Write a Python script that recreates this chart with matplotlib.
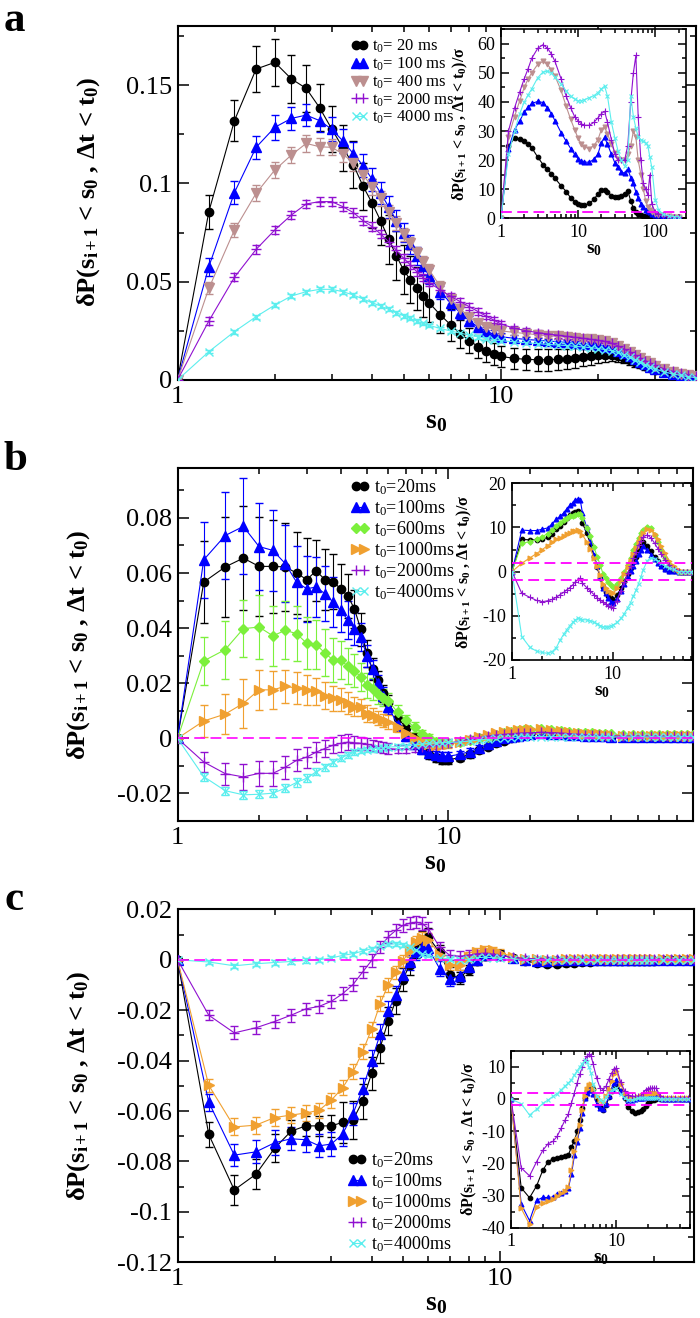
import matplotlib
matplotlib.use('Agg')
import matplotlib.pyplot as plt
from matplotlib.ticker import FixedLocator, NullFormatter, LogLocator, MultipleLocator, FuncFormatter
from matplotlib.lines import Line2D

plt.rcParams['font.family'] = ['Liberation Serif', 'DejaVu Serif']
plt.rcParams['mathtext.fontset'] = 'custom'
plt.rcParams['mathtext.rm'] = 'Liberation Serif'
plt.rcParams['mathtext.it'] = 'Liberation Serif:italic'
plt.rcParams['mathtext.bf'] = 'Liberation Serif:bold'

# ---------------- panel a (main) ----------------
S0_A = [1, 1.25, 1.5, 1.75, 2, 2.25, 2.5, 2.75, 3, 3.25, 3.5, 3.75, 4, 4.25, 4.5, 4.75, 5, 5.25, 5.5, 5.75, 6,
        6.5, 7, 7.5, 8, 8.5, 9, 9.5, 10,
        11, 12, 13, 14, 15, 16, 17, 18, 19, 20,
        21, 22, 23, 24, 25, 26, 27, 28, 29, 30,
        32, 34, 36, 38, 40]
A_20 = [0, 0.0856, 0.1319, 0.1581, 0.1615, 0.1531, 0.1483, 0.1385, 0.1276, 0.1180, 0.1094, 0.0985, 0.0899, 0.0809, 0.0716, 0.0632, 0.0560, 0.0509, 0.0466, 0.0427, 0.0393,
        0.0331, 0.0280, 0.0235, 0.0200, 0.0170, 0.0148, 0.0132, 0.0120,
        0.0110, 0.0105, 0.0103, 0.0103, 0.0105, 0.0108, 0.0111, 0.0115, 0.0120, 0.0125,
        0.0129, 0.0128, 0.0122, 0.0112, 0.0100, 0.0089, 0.0079, 0.0069, 0.0061, 0.0053,
        0.0041, 0.0032, 0.0025, 0.0019, 0.0015]
A_20_ERR = [0, 0.0087, 0.0105, 0.0116, 0.0120, 0.0122, 0.0120, 0.0120, 0.0115, 0.0115, 0.0120, 0.0120, 0.0125, 0.0125, 0.0125, 0.0125, 0.0125, 0.0120, 0.0110, 0.0105, 0.0100,
            0.0090, 0.0080, 0.0070, 0.0065, 0.0060, 0.0055, 0.0055, 0.0055,
            0.0055, 0.0055, 0.0055, 0.0055, 0.0055, 0.0050, 0.0050, 0.0045, 0.0042, 0.0040,
            0.0036, 0.0032, 0.0028, 0.0026, 0.0024, 0.0022, 0.0020, 0.0018, 0.0016, 0.0015,
            0.0013, 0.0011, 0.0010, 0.0009, 0.0008]
A_100 = [0, 0.0576, 0.0953, 0.1183, 0.1285, 0.1330, 0.1347, 0.1319, 0.1275, 0.1215, 0.1150, 0.1090, 0.1020, 0.0950, 0.0880, 0.0810, 0.0750, 0.0690, 0.0630, 0.0580, 0.0530,
         0.0450, 0.0390, 0.0340, 0.0300, 0.0270, 0.0250, 0.0232, 0.0220,
         0.0212, 0.0206, 0.0202, 0.0198, 0.0195, 0.0191, 0.0188, 0.0185, 0.0181, 0.0176,
         0.0170, 0.0161, 0.0150, 0.0136, 0.0121, 0.0106, 0.0092, 0.0079, 0.0068, 0.0058,
         0.0043, 0.0033, 0.0025, 0.0020, 0.0015]
A_100_ERR = [0, 0.0046, 0.0060, 0.0060, 0.0063, 0.0060, 0.0058, 0.0060, 0.0060, 0.0060, 0.0060, 0.0060, 0.0058, 0.0056, 0.0054, 0.0052, 0.0050, 0.0048, 0.0046, 0.0044, 0.0042,
             0.0038, 0.0034, 0.0030, 0.0027, 0.0024, 0.0022, 0.0020, 0.0018,
             0.0016, 0.0015, 0.0014, 0.0013, 0.0013, 0.0012, 0.0012, 0.0012, 0.0011, 0.0011,
             0.0010, 0.0010, 0.0010, 0.0009, 0.0009, 0.0008, 0.0008, 0.0007, 0.0007, 0.0006,
             0.0006, 0.0005, 0.0005, 0.0004, 0.0004]
A_400 = [0, 0.0466, 0.0763, 0.0949, 0.1068, 0.1144, 0.1203, 0.1186, 0.1183, 0.1149, 0.1102, 0.1042, 0.0983, 0.0924, 0.0855, 0.0800, 0.0740, 0.0695, 0.0645, 0.0600, 0.0560,
         0.0475, 0.0410, 0.0360, 0.0320, 0.0290, 0.0270, 0.0258, 0.0250,
         0.0242, 0.0236, 0.0230, 0.0226, 0.0222, 0.0218, 0.0214, 0.0210, 0.0206, 0.0201,
         0.0196, 0.0187, 0.0174, 0.0158, 0.0142, 0.0126, 0.0111, 0.0097, 0.0084, 0.0073,
         0.0055, 0.0042, 0.0032, 0.0025, 0.0020]
A_400_ERR = [0, 0.0030, 0.0035, 0.0040, 0.0040, 0.0040, 0.0045, 0.0042, 0.0040, 0.0040, 0.0040, 0.0040, 0.0040, 0.0038, 0.0037, 0.0036, 0.0035, 0.0034, 0.0033, 0.0032, 0.0030,
             0.0028, 0.0026, 0.0024, 0.0022, 0.0020, 0.0018, 0.0017, 0.0016,
             0.0015, 0.0014, 0.0013, 0.0012, 0.0012, 0.0011, 0.0011, 0.0010, 0.0010, 0.0010,
             0.0009, 0.0009, 0.0008, 0.0008, 0.0007, 0.0007, 0.0006, 0.0006, 0.0005, 0.0005,
             0.0004, 0.0004, 0.0003, 0.0003, 0.0003]
A_2000 = [0, 0.0300, 0.0522, 0.0664, 0.0763, 0.0839, 0.0895, 0.0907, 0.0907, 0.0881, 0.0851, 0.0810, 0.0780, 0.0742, 0.0703, 0.0660, 0.0620, 0.0585, 0.0550, 0.0520, 0.0495,
          0.0458, 0.0425, 0.0398, 0.0372, 0.0348, 0.0325, 0.0305, 0.0285,
          0.0263, 0.0250, 0.0241, 0.0234, 0.0228, 0.0222, 0.0217, 0.0212, 0.0207, 0.0202,
          0.0196, 0.0187, 0.0174, 0.0158, 0.0142, 0.0127, 0.0112, 0.0098, 0.0086, 0.0075,
          0.0057, 0.0044, 0.0034, 0.0027, 0.0021]
A_2000_ERR = [0, 0.0018, 0.0020, 0.0021, 0.0021, 0.0022, 0.0022, 0.0022, 0.0022, 0.0022, 0.0022, 0.0022, 0.0021, 0.0021, 0.0021, 0.0020, 0.0020, 0.0020, 0.0019, 0.0019, 0.0019,
              0.0018, 0.0018, 0.0017, 0.0017, 0.0016, 0.0016, 0.0015, 0.0015,
              0.0014, 0.0013, 0.0013, 0.0012, 0.0012, 0.0011, 0.0011, 0.0010, 0.0010, 0.0010,
              0.0009, 0.0009, 0.0008, 0.0008, 0.0007, 0.0007, 0.0006, 0.0006, 0.0005, 0.0005,
              0.0004, 0.0004, 0.0003, 0.0003, 0.0003]
A_4000 = [0, 0.0144, 0.0246, 0.0322, 0.0381, 0.0427, 0.0449, 0.0461, 0.0461, 0.0449, 0.0432, 0.0412, 0.0393, 0.0376, 0.0359, 0.0342, 0.0327, 0.0313, 0.0299, 0.0288, 0.0278,
          0.0262, 0.0249, 0.0238, 0.0228, 0.0219, 0.0211, 0.0205, 0.0200,
          0.0194, 0.0189, 0.0185, 0.0181, 0.0178, 0.0175, 0.0171, 0.0168, 0.0164, 0.0160,
          0.0155, 0.0149, 0.0140, 0.0128, 0.0115, 0.0102, 0.0089, 0.0077, 0.0066, 0.0056,
          0.0041, 0.0031, 0.0023, 0.0017, 0.0012]
A_4000_ERR = [0, 0.0008, 0.0010, 0.0010, 0.0010, 0.0010, 0.0010, 0.0010, 0.0010, 0.0010, 0.0010, 0.0010, 0.0010, 0.0010, 0.0010, 0.0010, 0.0010, 0.0010, 0.0009, 0.0009, 0.0009,
              0.0009, 0.0009, 0.0008, 0.0008, 0.0008, 0.0008, 0.0007, 0.0007,
              0.0007, 0.0007, 0.0006, 0.0006, 0.0006, 0.0006, 0.0006, 0.0005, 0.0005, 0.0005,
              0.0005, 0.0005, 0.0004, 0.0004, 0.0004, 0.0004, 0.0004, 0.0003, 0.0003, 0.0003,
              0.0003, 0.0003, 0.0002, 0.0002, 0.0002]

# ---------------- panel a (inset) ----------------
SI_A = [1, 1.25, 1.5, 1.75, 2, 2.25, 2.5, 3, 3.5, 4, 4.5, 5, 6, 7, 8, 9, 10,
        11, 12, 14, 16, 18, 20, 22, 24, 27, 30, 33, 36, 40, 44, 48, 52, 56, 60,
        65, 70, 75, 80, 85, 90, 100, 110, 125, 150, 175, 200]
IA_20 = [0, 24.8, 27.5, 27.3, 26.5, 25.5, 24.3, 21.0, 18.5, 16.8, 15.4, 13.8, 11.2, 9.2, 7.0, 5.6, 4.8,
         4.5, 4.5, 5.1, 6.5, 8.3, 9.6, 9.8, 9.2, 7.8, 7.2, 7.2, 7.6, 8.2, 9.5, 6.0, 3.5, 2.0, 1.5,
         1.0, 0.8, 0.7, 0.6, 0.5, 0.5, 0.4, 0.4, 0.3, 0.3, 0.3, 0.3]
IA_100 = [0, 23.9, 30.5, 33.5, 36.5, 38.2, 39.5, 40.2, 39.8, 38.0, 36.0, 33.6, 29.5, 26.5, 24.0, 22.0, 20.5,
          19.6, 19.3, 19.3, 20.3, 22.0, 26.0, 27.8, 25.5, 22.0, 19.0, 17.5, 16.0, 15.5, 17.0, 14.0, 12.0, 9.0, 7.0,
          5.0, 4.0, 3.0, 2.5, 2.0, 1.5, 1.2, 1.0, 0.8, 0.6, 0.5, 0.5]
IA_400 = [0, 28.0, 35.0, 40.5, 45.0, 48.0, 50.0, 53.0, 54.0, 53.0, 51.0, 49.0, 44.0, 38.5, 34.0, 30.5, 27.5,
          25.5, 24.5, 24.0, 25.0, 27.0, 30.5, 31.5, 29.0, 25.5, 22.5, 20.5, 20.0, 20.0, 22.0, 25.0, 30.0, 28.0, 20.0,
          15.0, 10.0, 6.0, 4.0, 3.0, 2.0, 1.5, 1.2, 1.0, 0.8, 0.6, 0.5]
IA_2000 = [0, 30.0, 38.0, 43.5, 48.0, 51.5, 55.0, 58.5, 59.7, 58.5, 56.5, 54.0, 48.0, 42.0, 38.0, 35.0, 33.5,
           32.5, 32.0, 32.0, 33.0, 34.5, 36.0, 36.8, 33.0, 27.0, 22.0, 20.0, 20.0, 20.0, 25.0, 40.0, 50.0, 56.0, 35.0,
           20.0, 12.0, 10.0, 8.0, 15.0, 5.0, 2.0, 1.5, 1.0, 0.6, 0.4, 0.3]
IA_4000 = [0, 22.0, 30.0, 36.0, 40.0, 42.5, 44.5, 48.4, 50.3, 50.6, 50.0, 48.5, 46.2, 43.8, 42.0, 41.0, 40.4,
           40.5, 40.8, 41.5, 42.2, 43.2, 44.5, 45.5, 42.0, 33.0, 27.5, 23.0, 20.0, 18.0, 20.0, 42.0, 35.0, 31.0, 28.0,
           27.0, 26.5, 26.0, 25.0, 21.0, 17.6, 6.3, 3.0, 1.5, 0.8, 0.6, 0.5]

# ---------------- panel b (main) ----------------
S0_B = [1, 1.25, 1.5, 1.75, 2, 2.25, 2.5, 2.75, 3, 3.25, 3.5, 3.75, 4, 4.25, 4.5, 4.75, 5, 5.25, 5.5, 5.75, 6,
        6.5, 7, 7.5, 8, 8.5, 9, 9.5, 10,
        11, 12, 13, 14, 15, 16, 17, 18, 19, 20,
        22, 24, 26, 28, 30, 32, 34, 36, 38, 40,
        44, 48, 52, 56, 60, 64, 68, 72, 76, 80]
B_20 = [0, 0.0567, 0.0622, 0.0654, 0.0624, 0.0624, 0.0622, 0.0600, 0.0576, 0.0608, 0.0576, 0.0569, 0.0543, 0.0517, 0.0470, 0.0395, 0.0308, 0.0250, 0.0211, 0.0163, 0.0127,
        0.0075, 0.0036, 0.0003, -0.0035, -0.0060, -0.0072, -0.0078, -0.0078,
        -0.0070, -0.0058, -0.0044, -0.0030, -0.0018, -0.0008, 0.0000, 0.0006, 0.0011, 0.0015,
        0.0018, 0.0018, 0.0016, 0.0014, 0.0012, 0.0010, 0.0009, 0.0008, 0.0007, 0.0006,
        0.0005, 0.0005, 0.0005, 0.0005, 0.0005, 0.0005, 0.0005, 0.0005, 0.0005, 0.0005]
B_20_ERR = [0, 0.0150, 0.0180, 0.0190, 0.0180, 0.0170, 0.0160, 0.0150, 0.0150, 0.0110, 0.0110, 0.0100, 0.0090, 0.0080, 0.0070, 0.0060, 0.0050, 0.0040, 0.0035, 0.0030, 0.0030,
            0.0025, 0.0020, 0.0015, 0.0015, 0.0015, 0.0015, 0.0015, 0.0015,
            0.0012, 0.0012, 0.0010, 0.0010, 0.0008, 0.0008, 0.0007, 0.0007, 0.0006, 0.0006,
            0.0006, 0.0005, 0.0005, 0.0005, 0.0004, 0.0004, 0.0004, 0.0004, 0.0003, 0.0003,
            0.0003, 0.0003, 0.0003, 0.0003, 0.0003, 0.0003, 0.0003, 0.0003, 0.0003, 0.0003]
B_100 = [0, 0.0648, 0.0736, 0.0769, 0.0696, 0.0682, 0.0634, 0.0567, 0.0543, 0.0549, 0.0525, 0.0495, 0.0465, 0.0430, 0.0398, 0.0368, 0.0300, 0.0250, 0.0200, 0.0155, 0.0115,
         0.0050, 0.0010, -0.0020, -0.0040, -0.0055, -0.0062, -0.0065, -0.0065,
         -0.0058, -0.0048, -0.0035, -0.0022, -0.0010, 0.0000, 0.0006, 0.0010, 0.0013, 0.0015,
         0.0018, 0.0017, 0.0015, 0.0013, 0.0012, 0.0010, 0.0009, 0.0008, 0.0007, 0.0006,
         0.0005, 0.0005, 0.0005, 0.0005, 0.0005, 0.0005, 0.0005, 0.0005, 0.0005, 0.0005]
B_100_ERR = [0, 0.0138, 0.0157, 0.0174, 0.0157, 0.0146, 0.0139, 0.0130, 0.0120, 0.0110, 0.0100, 0.0090, 0.0080, 0.0070, 0.0060, 0.0050, 0.0040, 0.0035, 0.0030, 0.0030, 0.0025,
             0.0022, 0.0020, 0.0018, 0.0016, 0.0015, 0.0015, 0.0015, 0.0015,
             0.0012, 0.0012, 0.0010, 0.0010, 0.0008, 0.0008, 0.0007, 0.0007, 0.0006, 0.0006,
             0.0006, 0.0005, 0.0005, 0.0005, 0.0004, 0.0004, 0.0004, 0.0004, 0.0003, 0.0003,
             0.0003, 0.0003, 0.0003, 0.0003, 0.0003, 0.0003, 0.0003, 0.0003, 0.0003, 0.0003]
B_600 = [0, 0.0281, 0.0322, 0.0398, 0.0404, 0.0372, 0.0392, 0.0380, 0.0345, 0.0340, 0.0310, 0.0284, 0.0284, 0.0262, 0.0245, 0.0223, 0.0193, 0.0178, 0.0160, 0.0148, 0.0135,
         0.0095, 0.0065, 0.0040, 0.0015, 0.0000, -0.0012, -0.0016, -0.0018,
         -0.0012, -0.0006, 0.0000, 0.0006, 0.0012, 0.0018, 0.0023, 0.0027, 0.0030, 0.0032,
         0.0033, 0.0031, 0.0027, 0.0024, 0.0021, 0.0019, 0.0018, 0.0016, 0.0015, 0.0014,
         0.0012, 0.0012, 0.0012, 0.0012, 0.0012, 0.0012, 0.0012, 0.0012, 0.0012, 0.0012]
B_600_ERR = [0, 0.0087, 0.0105, 0.0104, 0.0115, 0.0110, 0.0105, 0.0100, 0.0095, 0.0090, 0.0085, 0.0080, 0.0070, 0.0065, 0.0060, 0.0050, 0.0045, 0.0040, 0.0035, 0.0030, 0.0030,
             0.0025, 0.0020, 0.0018, 0.0016, 0.0015, 0.0014, 0.0013, 0.0012,
             0.0011, 0.0010, 0.0010, 0.0009, 0.0008, 0.0008, 0.0007, 0.0007, 0.0006, 0.0006,
             0.0006, 0.0005, 0.0005, 0.0005, 0.0004, 0.0004, 0.0004, 0.0004, 0.0003, 0.0003,
             0.0003, 0.0003, 0.0003, 0.0003, 0.0003, 0.0003, 0.0003, 0.0003, 0.0003, 0.0003]
B_1000 = [0, 0.0063, 0.0088, 0.0127, 0.0176, 0.0176, 0.0189, 0.0182, 0.0176, 0.0170, 0.0155, 0.0145, 0.0140, 0.0127, 0.0115, 0.0112, 0.0090, 0.0085, 0.0075, 0.0065, 0.0058,
          0.0042, 0.0020, 0.0002, -0.0012, -0.0020, -0.0024, -0.0024, -0.0022,
          -0.0014, -0.0006, 0.0006, 0.0012, 0.0018, 0.0023, 0.0027, 0.0030, 0.0032, 0.0033,
          0.0033, 0.0031, 0.0027, 0.0023, 0.0019, 0.0017, 0.0015, 0.0014, 0.0013, 0.0012,
          0.0010, 0.0010, 0.0010, 0.0010, 0.0010, 0.0010, 0.0010, 0.0010, 0.0010, 0.0010]
B_1000_ERR = [0, 0.0058, 0.0072, 0.0090, 0.0072, 0.0068, 0.0060, 0.0058, 0.0055, 0.0050, 0.0048, 0.0045, 0.0042, 0.0040, 0.0035, 0.0030, 0.0030, 0.0025, 0.0025, 0.0025, 0.0025,
              0.0020, 0.0015, 0.0015, 0.0015, 0.0012, 0.0012, 0.0012, 0.0012,
              0.0010, 0.0010, 0.0010, 0.0009, 0.0008, 0.0008, 0.0007, 0.0007, 0.0006, 0.0006,
              0.0006, 0.0005, 0.0005, 0.0005, 0.0004, 0.0004, 0.0004, 0.0004, 0.0003, 0.0003,
              0.0003, 0.0003, 0.0003, 0.0003, 0.0003, 0.0003, 0.0003, 0.0003, 0.0003, 0.0003]
B_2000 = [0, -0.0086, -0.0128, -0.0140, -0.0127, -0.0127, -0.0105, -0.0080, -0.0068, -0.0050, -0.0037, -0.0025, -0.0018, -0.0014, -0.0016, -0.0018, -0.0022, -0.0026, -0.0030, -0.0034, -0.0037,
          -0.0040, -0.0038, -0.0035, -0.0030, -0.0027, -0.0024, -0.0021, -0.0018,
          -0.0010, -0.0003, 0.0003, 0.0008, 0.0012, 0.0014, 0.0016, 0.0018, 0.0019, 0.0020,
          0.0022, 0.0021, 0.0019, 0.0017, 0.0015, 0.0013, 0.0012, 0.0011, 0.0010, 0.0009,
          0.0008, 0.0008, 0.0008, 0.0008, 0.0008, 0.0008, 0.0008, 0.0008, 0.0008, 0.0008]
B_2000_ERR = [0, 0.0036, 0.0040, 0.0048, 0.0045, 0.0045, 0.0042, 0.0040, 0.0038, 0.0035, 0.0032, 0.0030, 0.0030, 0.0028, 0.0026, 0.0024, 0.0022, 0.0020, 0.0020, 0.0020, 0.0020,
              0.0015, 0.0015, 0.0015, 0.0015, 0.0015, 0.0015, 0.0015, 0.0015,
              0.0010, 0.0010, 0.0010, 0.0010, 0.0010, 0.0010, 0.0010, 0.0010, 0.0010, 0.0010,
              0.0008, 0.0008, 0.0008, 0.0008, 0.0008, 0.0008, 0.0008, 0.0008, 0.0008, 0.0008,
              0.0005, 0.0005, 0.0005, 0.0005, 0.0005, 0.0005, 0.0005, 0.0005, 0.0005, 0.0005]
B_4000 = [0, -0.0139, -0.0190, -0.0205, -0.0203, -0.0199, -0.0181, -0.0160, -0.0145, -0.0121, -0.0105, -0.0087, -0.0072, -0.0060, -0.0050, -0.0045, -0.0041, -0.0038, -0.0036, -0.0034, -0.0032,
          -0.0030, -0.0027, -0.0024, -0.0021, -0.0018, -0.0017, -0.0016, -0.0015,
          -0.0013, -0.0010, -0.0006, -0.0003, 0.0000, 0.0002, 0.0003, 0.0004, 0.0005, 0.0006,
          0.0006, 0.0006, 0.0006, 0.0005, 0.0005, 0.0005, 0.0005, 0.0005, 0.0005, 0.0005,
          0.0005, 0.0005, 0.0005, 0.0005, 0.0005, 0.0005, 0.0005, 0.0005, 0.0005, 0.0005]
B_4000_ERR = [0, 0.0015, 0.0015, 0.0015, 0.0015, 0.0015, 0.0015, 0.0015, 0.0015, 0.0012, 0.0012, 0.0012, 0.0012, 0.0012, 0.0012, 0.0010, 0.0010, 0.0010, 0.0010, 0.0010, 0.0010,
              0.0008, 0.0008, 0.0008, 0.0008, 0.0008, 0.0008, 0.0008, 0.0008,
              0.0006, 0.0006, 0.0006, 0.0006, 0.0006, 0.0006, 0.0006, 0.0006, 0.0006, 0.0006,
              0.0005, 0.0005, 0.0005, 0.0005, 0.0005, 0.0005, 0.0005, 0.0005, 0.0005, 0.0005,
              0.0004, 0.0004, 0.0004, 0.0004, 0.0004, 0.0004, 0.0004, 0.0004, 0.0004, 0.0004]

# ---------------- panel b (inset) ----------------
SI_B = [1, 1.25, 1.5, 1.75, 2, 2.25, 2.5, 2.75, 3, 3.25, 3.5, 3.75, 4, 4.25, 4.5, 4.75, 5,
        5.5, 6, 6.5, 7, 7.5, 8, 8.5, 9, 9.5, 10,
        11, 12, 13, 14, 15, 16, 17, 18, 19, 20,
        22, 24, 26, 28, 30, 33, 36, 40, 45, 50, 55, 60]
IB_20 = [0, 7.3, 7.2, 7.2, 7.3, 7.8, 8.6, 9.6, 10.4, 11.2, 12.2, 12.9, 13.3, 13.6, 13.8, 13.2, 11.0,
         8.7, 6.3, 3.5, 1.0, -1.5, -3.5, -4.6, -5.4, -6.0, -6.5,
         -5.3, -3.8, -2.1, -0.6, 0.8, 2.1, 3.3, 4.9, 6.0, 6.8,
         5.8, 4.6, 3.3, 2.3, 1.5, 0.6, 0.2, 0.1, 0.0, 0.0, 0.0, 0.0]
IB_100 = [0, 9.4, 9.3, 9.3, 9.6, 9.9, 10.8, 11.9, 12.5, 13.3, 14.2, 15.0, 15.6, 16.2, 16.5, 16.3, 13.2,
          10.0, 6.9, 3.8, 1.3, -1.2, -3.6, -4.9, -6.0, -6.8, -7.2,
          -6.1, -4.4, -2.8, -1.3, 0.1, 1.3, 2.5, 3.9, 5.0, 5.7,
          4.8, 3.8, 2.8, 2.0, 1.3, 0.6, 0.2, 0.1, 0.0, 0.0, 0.0, 0.0]
IB_600 = [0, 6.4, 6.8, 7.3, 7.9, 8.6, 9.4, 10.4, 11.0, 11.6, 12.2, 12.6, 12.7, 12.8, 13.1, 13.0, 12.1,
          9.9, 8.0, 5.5, 3.4, 1.5, -0.5, -1.5, -2.4, -3.0, -3.4,
          -2.8, -1.5, 0.0, 1.6, 3.2, 5.0, 6.3, 7.7, 8.8, 9.4,
          10.2, 9.8, 8.3, 6.6, 5.0, 3.0, 1.5, 0.5, 0.0, 0.0, 0.0, 0.0]
IB_1000 = [0, 1.9, 3.1, 4.1, 5.0, 5.9, 6.6, 7.3, 7.7, 8.1, 8.5, 8.8, 9.1, 9.3, 9.4, 9.2, 8.3,
           6.8, 5.1, 3.1, 1.2, -0.8, -2.7, -3.6, -4.3, -4.7, -4.9,
           -3.8, -2.2, -0.6, 1.0, 2.5, 3.9, 5.3, 6.6, 7.7, 8.7,
           9.7, 9.5, 8.5, 7.4, 5.9, 4.2, 2.5, 1.2, 0.4, 0.0, 0.0, 0.0]
IB_2000 = [0, -4.9, -5.8, -6.5, -6.8, -6.6, -6.3, -5.8, -5.2, -4.7, -4.1, -3.6, -3.0, -2.3, -1.8, -1.5, -2.6,
           -3.6, -4.4, -5.2, -5.9, -6.4, -6.9, -7.3, -7.8, -8.1, -8.3,
           -6.6, -4.4, -2.3, -0.4, 1.2, 3.1, 4.5, 6.0, 7.0, 7.9,
           8.3, 7.6, 6.4, 5.2, 4.1, 2.7, 1.4, 0.6, 0.1, 0.0, 0.0, 0.0]
IB_4000 = [0, -14.7, -17.1, -18.0, -18.3, -18.5, -18.1, -17.2, -15.5, -14.2, -13.1, -12.2, -11.5, -10.9, -10.6, -10.7, -10.9,
           -10.9, -11.1, -11.5, -11.8, -12.2, -12.5, -12.5, -12.5, -12.3, -12.1,
           -11.5, -10.6, -9.5, -8.2, -7.0, -5.5, -4.2, -2.7, -1.2, 0.4,
           2.5, 3.2, 2.9, 2.4, 1.9, 1.3, 0.9, 0.5, 0.0, 0.0, 0.0, 0.0]

# ---------------- panel c (main) ----------------
S0_C = S0_A
C_20 = [0, -0.0693, -0.0913, -0.0851, -0.0748, -0.0680, -0.0659, -0.0659, -0.0659, -0.0645, -0.0636, -0.0561, -0.0451, -0.0350, -0.0243, -0.0164, -0.0079, -0.0020, 0.0040, 0.0080, 0.0090,
        0.0030, -0.0060, -0.0072, -0.0040, -0.0005, 0.0015, 0.0025, 0.0022,
        0.0005, -0.0006, -0.0012, -0.0015, -0.0015, -0.0013, -0.0011, -0.0009, -0.0008, -0.0007,
        -0.0006, -0.0006, -0.0005, -0.0005, -0.0005, -0.0004, -0.0004, -0.0004, -0.0004, -0.0004,
        -0.0003, -0.0003, -0.0003, -0.0003, -0.0003]
C_20_ERR = [0, 0.0050, 0.0060, 0.0060, 0.0055, 0.0045, 0.0040, 0.0040, 0.0045, 0.0080, 0.0075, 0.0070, 0.0065, 0.0060, 0.0055, 0.0050, 0.0045, 0.0040, 0.0035, 0.0035, 0.0035,
            0.0030, 0.0030, 0.0025, 0.0020, 0.0015, 0.0015, 0.0015, 0.0015,
            0.0010, 0.0010, 0.0010, 0.0010, 0.0010, 0.0010, 0.0010, 0.0010, 0.0010, 0.0010,
            0.0008, 0.0008, 0.0008, 0.0008, 0.0008, 0.0008, 0.0008, 0.0008, 0.0008, 0.0008,
            0.0006, 0.0006, 0.0006, 0.0006, 0.0006]
C_100 = [0, -0.0565, -0.0775, -0.0762, -0.0726, -0.0710, -0.0714, -0.0738, -0.0731, -0.0692, -0.0612, -0.0513, -0.0402, -0.0295, -0.0205, -0.0140, -0.0060, -0.0010, 0.0030, 0.0050, 0.0045,
         -0.0035, -0.0075, -0.0065, -0.0030, 0.0000, 0.0018, 0.0025, 0.0020,
         0.0008, 0.0000, -0.0004, -0.0004, -0.0003, -0.0002, -0.0002, -0.0002, -0.0002, -0.0002,
         -0.0001, -0.0001, -0.0001, -0.0001, -0.0001, -0.0001, -0.0001, -0.0001, -0.0001, -0.0001,
         0.0000, 0.0000, 0.0000, 0.0000, 0.0000]
C_100_ERR = [0, 0.0033, 0.0043, 0.0046, 0.0050, 0.0046, 0.0050, 0.0045, 0.0048, 0.0046, 0.0045, 0.0045, 0.0045, 0.0042, 0.0040, 0.0035, 0.0030, 0.0030, 0.0030, 0.0030, 0.0030,
             0.0028, 0.0028, 0.0025, 0.0020, 0.0015, 0.0015, 0.0015, 0.0015,
             0.0008, 0.0008, 0.0008, 0.0008, 0.0008, 0.0008, 0.0008, 0.0008, 0.0008, 0.0008,
             0.0006, 0.0006, 0.0006, 0.0006, 0.0006, 0.0006, 0.0006, 0.0006, 0.0006, 0.0006,
             0.0005, 0.0005, 0.0005, 0.0005, 0.0005]
C_1000 = [0, -0.0498, -0.0663, -0.0656, -0.0626, -0.0616, -0.0608, -0.0597, -0.0557, -0.0508, -0.0445, -0.0365, -0.0275, -0.0175, -0.0100, -0.0050, -0.0005, 0.0035, 0.0070, 0.0085, 0.0080,
          0.0020, -0.0020, -0.0020, 0.0010, 0.0030, 0.0040, 0.0037, 0.0028,
          0.0012, 0.0004, 0.0001, 0.0000, 0.0000, 0.0001, 0.0001, 0.0002, 0.0002, 0.0002,
          0.0002, 0.0002, 0.0002, 0.0002, 0.0002, 0.0002, 0.0002, 0.0002, 0.0002, 0.0002,
          0.0001, 0.0001, 0.0001, 0.0001, 0.0001]
C_1000_ERR = [0, 0.0026, 0.0034, 0.0034, 0.0034, 0.0032, 0.0030, 0.0030, 0.0030, 0.0030, 0.0030, 0.0030, 0.0030, 0.0030, 0.0028, 0.0027, 0.0025, 0.0025, 0.0025, 0.0025, 0.0025,
              0.0020, 0.0020, 0.0020, 0.0020, 0.0015, 0.0015, 0.0015, 0.0015,
              0.0008, 0.0008, 0.0008, 0.0008, 0.0008, 0.0008, 0.0008, 0.0008, 0.0008, 0.0008,
              0.0006, 0.0006, 0.0006, 0.0006, 0.0006, 0.0006, 0.0006, 0.0006, 0.0006, 0.0006,
              0.0005, 0.0005, 0.0005, 0.0005, 0.0005]
C_2000 = [0, -0.0220, -0.0290, -0.0270, -0.0245, -0.0220, -0.0195, -0.0185, -0.0165, -0.0135, -0.0099, -0.0049, -0.0003, 0.0050, 0.0090, 0.0116, 0.0136, 0.0145, 0.0149, 0.0143, 0.0123,
          0.0050, 0.0017, 0.0014, 0.0018, 0.0024, 0.0026, 0.0022, 0.0016,
          0.0009, 0.0005, 0.0004, 0.0003, 0.0003, 0.0003, 0.0003, 0.0003, 0.0003, 0.0003,
          0.0003, 0.0003, 0.0003, 0.0003, 0.0003, 0.0003, 0.0003, 0.0003, 0.0003, 0.0003,
          0.0003, 0.0003, 0.0003, 0.0003, 0.0003]
C_2000_ERR = [0, 0.0020, 0.0026, 0.0026, 0.0026, 0.0025, 0.0025, 0.0025, 0.0025, 0.0025, 0.0025, 0.0025, 0.0025, 0.0025, 0.0025, 0.0025, 0.0025, 0.0025, 0.0025, 0.0025, 0.0025,
              0.0020, 0.0020, 0.0020, 0.0020, 0.0015, 0.0015, 0.0015, 0.0015,
              0.0008, 0.0008, 0.0008, 0.0008, 0.0008, 0.0008, 0.0008, 0.0008, 0.0008, 0.0008,
              0.0006, 0.0006, 0.0006, 0.0006, 0.0006, 0.0006, 0.0006, 0.0006, 0.0006, 0.0006,
              0.0005, 0.0005, 0.0005, 0.0005, 0.0005]
C_4000 = [0, -0.0009, -0.0024, -0.0016, -0.0011, -0.0007, -0.0003, 0.0000, 0.0007, 0.0017, 0.0024, 0.0034, 0.0044, 0.0053, 0.0061, 0.0063, 0.0059, 0.0050, 0.0037, 0.0024, 0.0017,
          0.0008, 0.0003, 0.0000, 0.0002, 0.0008, 0.0010, 0.0008, 0.0005,
          0.0002, 0.0001, 0.0001, 0.0000, 0.0000, 0.0000, 0.0000, 0.0000, 0.0000, 0.0000,
          0.0000, 0.0000, 0.0000, 0.0000, 0.0000, 0.0000, 0.0000, 0.0000, 0.0000, 0.0000,
          0.0000, 0.0000, 0.0000, 0.0000, 0.0000]
C_4000_ERR = [0, 0.0008, 0.0008, 0.0008, 0.0008, 0.0008, 0.0008, 0.0008, 0.0008, 0.0008, 0.0008, 0.0008, 0.0008, 0.0008, 0.0008, 0.0008, 0.0008, 0.0008, 0.0008, 0.0008, 0.0008,
              0.0007, 0.0007, 0.0007, 0.0007, 0.0007, 0.0007, 0.0007, 0.0007,
              0.0005, 0.0005, 0.0005, 0.0005, 0.0005, 0.0005, 0.0005, 0.0005, 0.0005, 0.0005,
              0.0005, 0.0005, 0.0005, 0.0005, 0.0005, 0.0005, 0.0005, 0.0005, 0.0005, 0.0005,
              0.0004, 0.0004, 0.0004, 0.0004, 0.0004]

# ---------------- panel c (inset) ----------------
SI_C = [1, 1.25, 1.5, 1.75, 2, 2.25, 2.5, 2.75, 3, 3.25, 3.5, 3.75, 4, 4.25, 4.5, 4.75, 5, 5.25, 5.5, 5.75, 6,
        6.5, 7, 7.5, 8, 8.5, 9, 9.5, 10,
        11, 12, 13, 14, 15, 16, 17, 18, 19, 20, 21, 22, 23, 24,
        26, 28, 30, 33, 36, 40, 44, 48]
IC_20 = [0, -27.6, -30.7, -27.0, -22.2, -19.5, -18.6, -18.4, -18.1, -17.8, -17.4, -14.9, -13.0, -10.0, -6.5, -2.8, 0.3, 2.5, 3.6, 3.9, 3.0,
         0.0, -2.5, -3.4, -2.0, 0.5, 2.5, 3.6, 3.9,
         2.5, 0.2, -2.5, -3.8, -4.3, -4.2, -3.8, -3.2, -2.2, -1.2, -0.7, -0.4, -0.2, 0.0,
         0.0, 0.0, 0.0, 0.0, 0.0, 0.0, 0.0, 0.0]
IC_100 = [0, -32.7, -37.8, -31.5, -30.6, -30.6, -30.5, -29.6, -29.2, -28.6, -27.8, -23.3, -17.5, -13.5, -9.0, -4.5, 0.3, 2.0, 2.8, 2.9, 1.5,
          -1.5, -2.9, -3.0, -1.5, 1.0, 3.0, 5.0, 5.8,
          2.5, 0.8, -0.2, -0.3, 0.0, 0.2, 0.3, 0.4, 0.5, 0.6, 0.6, 0.7, 0.8, 0.8,
          0.3, 0.0, 0.0, 0.0, 0.0, 0.0, 0.0, 0.0]
IC_1000 = [0, -34.0, -39.0, -33.5, -32.2, -31.6, -31.1, -30.2, -29.3, -28.5, -27.3, -22.2, -16.3, -12.5, -8.0, -3.5, 1.0, 3.0, 4.3, 4.5, 3.2,
           1.0, -0.3, -0.8, 0.8, 3.2, 5.5, 7.8, 8.6,
           4.5, 2.0, 0.6, 0.3, 0.4, 0.6, 0.8, 1.2, 1.5, 1.7, 1.8, 1.8, 1.8, 1.8,
           0.8, 0.3, 0.3, 0.3, 0.3, 0.3, 0.3, 0.3]
IC_2000 = [0, -21.4, -23.9, -19.5, -16.0, -13.9, -13.2, -11.5, -9.0, -6.6, -4.7, -1.3, 2.0, 5.0, 7.8, 9.8, 12.0, 13.2, 13.9, 13.5, 11.0,
           6.5, 3.5, 2.9, 4.0, 6.2, 8.0, 9.2, 9.7,
           5.2, 2.5, 1.3, 0.9, 0.8, 0.8, 0.9, 1.8, 2.8, 3.2, 3.4, 3.4, 3.4, 3.3,
           0.8, 0.3, 0.3, 0.3, 0.3, 0.3, 0.3, 0.3]
IC_4000 = [0, -1.5, -5.0, -3.2, -1.4, -0.3, 0.8, 1.7, 2.9, 4.0, 5.0, 6.0, 7.5, 8.8, 10.0, 11.0, 12.0, 11.5, 10.0, 8.0, 4.5,
           1.0, -0.3, -0.8, 0.5, 1.8, 2.6, 3.2, 3.4,
           1.5, 0.2, -0.2, -0.3, 0.0, 0.2, 0.3, 0.3, 0.3, 0.3, 0.3, 0.3, 0.3, 0.3,
           0.0, 0.0, 0.0, 0.0, 0.0, 0.0, 0.0, 0.0]

LEG_A = ['t$_\\mathrm{0}$= 20 ms', 't$_\\mathrm{0}$= 100 ms', 't$_\\mathrm{0}$= 400 ms',
         't$_\\mathrm{0}$= 2000 ms', 't$_\\mathrm{0}$= 4000 ms']
LEG_B = ['t$_\\mathrm{0}$=20ms', 't$_\\mathrm{0}$=100ms', 't$_\\mathrm{0}$=600ms',
         't$_\\mathrm{0}$=1000ms', 't$_\\mathrm{0}$=2000ms', 't$_\\mathrm{0}$=4000ms']
LEG_C = ['t$_\\mathrm{0}$=20ms', 't$_\\mathrm{0}$=100ms', 't$_\\mathrm{0}$=1000ms',
         't$_\\mathrm{0}$=2000ms', 't$_\\mathrm{0}$=4000ms']

# ---------------- styles ----------------
STY = {
    20:   dict(color='black',   marker='o', ms=6.0),
    100:  dict(color='#0000ff', marker='^', ms=6.5),
    400:  dict(color='#bc8f8f', marker='v', ms=6.5),
    600:  dict(color='#7cf03c', marker='D', ms=5.0),
    1000: dict(color='#f0a030', marker='>', ms=6.5),
    2000: dict(color='#9010d0', marker='+', ms=7.0),
    4000: dict(color='#5ceeee', marker='x', ms=5.5),
}
MAGENTA = '#ff00ff'
YLAB = 'δP(s$_{\\mathbf{i+1}}$ < s$_{\\mathbf{0}}$ , Δt < t$_{\\mathbf{0}}$)'
XLAB = 's$_{\\mathbf{0}}$'


def yfmt(v, pos):
    if abs(v) < 1e-12:
        return '0'
    return '%g' % v


def xfmt(v, pos):
    return '%g' % v


fig = plt.figure(figsize=(7, 13.18), dpi=100)
H = 1318.0
W = 700.0


def add_ax(left, top, right, bottom):
    return fig.add_axes([left / W, 1 - bottom / H, (right - left) / W, (bottom - top) / H])


def style_axes(ax, xlim, ylim, xmaj, ymaj, ymin, labelsize, majlen, minlen, spw):
    ax.set_xscale('log')
    ax.set_xlim(*xlim)
    ax.set_ylim(*ylim)
    ax.xaxis.set_major_locator(FixedLocator(xmaj))
    ax.xaxis.set_major_formatter(FuncFormatter(xfmt))
    ax.xaxis.set_minor_locator(LogLocator(base=10, subs=(2, 3, 4, 5, 6, 7, 8, 9), numticks=30))
    ax.xaxis.set_minor_formatter(NullFormatter())
    ax.yaxis.set_major_locator(MultipleLocator(ymaj))
    ax.yaxis.set_minor_locator(MultipleLocator(ymin))
    ax.yaxis.set_major_formatter(FuncFormatter(yfmt))
    ax.tick_params(which='both', direction='in', top=True, right=True, width=1.1)
    ax.tick_params(which='major', length=majlen, labelsize=labelsize, pad=4)
    ax.tick_params(which='minor', length=minlen)
    for s in ax.spines.values():
        s.set_linewidth(spw)


def draw_main(ax, x, series):
    for key, y, e in series:
        st = STY[key]
        ax.errorbar(x, y, yerr=e, color=st['color'], marker=st['marker'], ms=st['ms'],
                    mew=1.0, lw=0.8, elinewidth=0.8, capsize=3, capthick=0.8, zorder=3)


def draw_inset(ax, x, series):
    for key, y in series:
        st = STY[key]
        ax.plot(x, y, color=st['color'], marker=st['marker'], ms=st['ms'] * 0.55,
                mew=0.8, lw=0.8, zorder=3)


def add_legend(ax, keys, labels, x, y, fs, spacing):
    handles = [Line2D([], [], color=STY[k]['color'], marker=STY[k]['marker'], ms=STY[k]['ms'],
                      mew=1.0, lw=0.8) for k in keys]
    ax.legend(handles, labels, loc='upper left', bbox_to_anchor=(x / W, 1 - y / H),
              bbox_transform=fig.transFigure, frameon=False, numpoints=2, handlelength=1.0,
              handletextpad=0.25, labelspacing=spacing, borderpad=0, borderaxespad=0,
              fontsize=fs)


# ================= panel a =================
axA = add_ax(177.5, 26, 695.5, 380)
style_axes(axA, (1, 40), (0, 0.18), [1, 10], 0.05, 0.025, 19, 8, 4, 1.5)
draw_main(axA, S0_A, [(20, A_20, A_20_ERR), (100, A_100, A_100_ERR), (400, A_400, A_400_ERR),
                      (2000, A_2000, A_2000_ERR), (4000, A_4000, A_4000_ERR)])
axA.set_ylabel(YLAB, fontsize=19, fontweight='bold')
axA.yaxis.set_label_coords(-0.145, 0.53)
axA.set_xlabel(XLAB, fontsize=20, fontweight='bold', labelpad=1)
add_legend(axA, [20, 100, 400, 2000, 4000], LEG_A, 351, 38, 12, 0.02)

axAi = add_ax(501, 29.3, 686, 218.3)
style_axes(axAi, (1, 250), (0, 65), [1, 10, 100], 10, 5, 13, 6, 3, 1.2)
draw_inset(axAi, SI_A, [(20, IA_20), (100, IA_100), (400, IA_400), (2000, IA_2000), (4000, IA_4000)])
axAi.axhline(2, color=MAGENTA, lw=1.3, ls=(0, (6, 3)), zorder=5)
axAi.set_ylabel(YLAB + '/σ', fontsize=11.5, fontweight='bold')
axAi.yaxis.set_label_coords(-0.17, 0.5)
axAi.set_xlabel(XLAB, fontsize=14, fontweight='bold', labelpad=0)

# ================= panel b =================
axB = add_ax(177.5, 468.3, 693, 821)
style_axes(axB, (1, 80), (-0.03, 0.098), [1, 10], 0.02, 0.01, 19, 8, 4, 1.5)
draw_main(axB, S0_B, [(20, B_20, B_20_ERR), (100, B_100, B_100_ERR), (600, B_600, B_600_ERR),
                      (1000, B_1000, B_1000_ERR), (2000, B_2000, B_2000_ERR), (4000, B_4000, B_4000_ERR)])
axB.axhline(0, color=MAGENTA, lw=1.3, ls=(0, (6, 3)), zorder=4, alpha=0.9)
axB.set_ylabel(YLAB, fontsize=19, fontweight='bold')
axB.yaxis.set_label_coords(-0.166, 0.5)
axB.set_xlabel(XLAB, fontsize=20, fontweight='bold', labelpad=1)
add_legend(axB, [20, 100, 600, 1000, 2000, 4000], LEG_B, 351, 477, 13, 0.08)

axBi = add_ax(512, 483.3, 692, 660)
style_axes(axBi, (1, 61), (-20, 20), [1, 10], 10, 5, 13, 6, 3, 1.2)
draw_inset(axBi, SI_B, [(20, IB_20), (100, IB_100), (600, IB_600), (1000, IB_1000),
                        (2000, IB_2000), (4000, IB_4000)])
axBi.axhline(2, color=MAGENTA, lw=1.3, ls=(0, (6, 3)), zorder=5)
axBi.axhline(-2, color=MAGENTA, lw=1.3, ls=(0, (6, 3)), zorder=5)
axBi.set_ylabel(YLAB + '/σ', fontsize=11.5, fontweight='bold')
axBi.yaxis.set_label_coords(-0.21, 0.5)
axBi.set_xlabel(XLAB, fontsize=14, fontweight='bold', labelpad=0)

# ================= panel c =================
axC = add_ax(177.5, 909.3, 694, 1262.3)
style_axes(axC, (1, 40), (-0.12, 0.02), [1, 10], 0.02, 0.01, 19, 8, 4, 1.5)
draw_main(axC, S0_C, [(20, C_20, C_20_ERR), (100, C_100, C_100_ERR), (1000, C_1000, C_1000_ERR),
                      (2000, C_2000, C_2000_ERR), (4000, C_4000, C_4000_ERR)])
axC.axhline(0, color=MAGENTA, lw=1.3, ls=(0, (6, 3)), zorder=4, alpha=0.9)
axC.set_ylabel(YLAB, fontsize=19, fontweight='bold')
axC.yaxis.set_label_coords(-0.166, 0.5)
axC.set_xlabel(XLAB, fontsize=20, fontweight='bold', labelpad=1)
add_legend(axC, [20, 100, 1000, 2000, 4000], LEG_C, 348, 1150, 13, 0.08)

axCi = add_ax(511, 1050.7, 690, 1227.7)
style_axes(axCi, (1, 50), (-40, 15), [1, 10], 10, 5, 13, 6, 3, 1.2)
draw_inset(axCi, SI_C, [(20, IC_20), (100, IC_100), (1000, IC_1000), (2000, IC_2000), (4000, IC_4000)])
axCi.axhline(2, color=MAGENTA, lw=1.3, ls=(0, (6, 3)), zorder=5)
axCi.axhline(-2, color=MAGENTA, lw=1.3, ls=(0, (6, 3)), zorder=5)
axCi.set_ylabel(YLAB + '/σ', fontsize=11.5, fontweight='bold')
axCi.yaxis.set_label_coords(-0.18, 0.5)
axCi.set_xlabel(XLAB, fontsize=14, fontweight='bold', labelpad=0)

# panel letters
for letter, ybase in [('a', 31), ('b', 470), ('c', 910)]:
    fig.text(4 / W, 1 - ybase / H, letter, fontsize=31, fontweight='bold', va='baseline', ha='left')

fig.savefig('out.png', dpi=100)
